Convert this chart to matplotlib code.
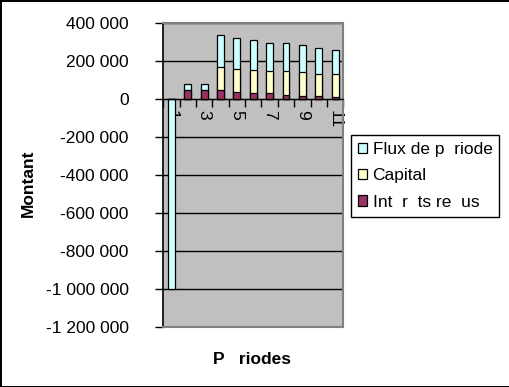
import matplotlib
matplotlib.use("Agg")
import matplotlib.pyplot as plt
from matplotlib.patches import Patch
import numpy as np

plt.rcParams['font.family'] = ['Liberation Sans', 'DejaVu Sans']

# data
periodes = np.arange(1, 12)
flux = [-1000000, 82000, 82000, 337000, 325000, 314000, 298000, 295000, 283000, 272000, 261000]
capital = [0, 0, 0, 167000, 161000, 156000, 151000, 151000, 142000, 135000, 130000]
interets = [0, 47000, 47000, 47000, 37000, 30000, 30000, 21000, 14000, 14000, 9000]

noms = ["Flux de p  riode", "Capital", "Int  r  ts re  us"]
couleurs = ["#CCFFFF", "#FFFFCC", "#993366"]

y_ticks = [400000, 200000, 0, -200000, -400000, -600000, -800000, -1000000, -1200000]
y_labels = ["400 000", "200 000", "0", "-200 000", "-400 000", "-600 000",
            "-800 000", "-1 000 000", "-1 200 000"]
x_labels = ["1", "", "3", "", "5", "", "7", "", "9", "", "11"]

fig = plt.figure(figsize=(5.1, 3.87), dpi=100, edgecolor='black', linewidth=2)
ax = fig.add_axes([0.3202, 0.1558, 0.3529, 0.784])
ax.set_facecolor("#C0C0C0")

w = 0.42
for vals, col in zip([flux, capital, interets], couleurs):
    ax.bar(periodes, vals, width=w, color=col, edgecolor='black', linewidth=0.9, zorder=3)

ax.set_xlim(0.5, 11.5)
ax.set_ylim(-1200000, 400000)

# y axis
ax.set_yticks(y_ticks)
ax.set_yticklabels(y_labels, fontsize=12.5)
ax.tick_params(axis='y', direction='out', length=6, width=1, pad=19)
ax.yaxis.grid(True, color='black', linewidth=1)
ax.set_axisbelow(True)

# category axis sits on zero
ax.spines['bottom'].set_position(('data', 0))
ax.spines['bottom'].set_zorder(4)
ax.set_xticks(periodes)
ax.set_xticklabels(x_labels, rotation=270, fontsize=12.5, va='top')
ax.tick_params(axis='x', which='major', length=0, pad=8)
ax.set_xticks(np.arange(0.5, 12, 1), minor=True)
ax.tick_params(axis='x', which='minor', direction='out', length=6, width=1)

ax.spines['left'].set_linewidth(1.2)
for s in ['top', 'right']:
    ax.spines[s].set_color('#808080')
    ax.spines[s].set_linewidth(1.5)
ax.axhline(-1200000, color='#808080', linewidth=1.5, zorder=5, clip_on=False)

fig.text(0.055, 0.527, "Montant", rotation=90, fontsize=12.5, fontweight='bold',
         ha='center', va='center')
fig.text(0.494, 0.072, "P   riodes", fontsize=12.5, fontweight='bold',
         ha='center', va='center')

handles = [Patch(facecolor=c, edgecolor='black', linewidth=0.9) for c in couleurs]
leg = fig.legend(handles, noms, loc='upper left', bbox_to_anchor=(0.688, 0.651),
                 fontsize=12.5, frameon=True, fancybox=False, edgecolor='black',
                 framealpha=1, borderaxespad=0, handlelength=0.55, handleheight=0.55,
                 handletextpad=0.3, labelspacing=0.65, borderpad=0.4)
leg.get_frame().set_linewidth(1)

fig.savefig("out.png", dpi=100, edgecolor=fig.get_edgecolor())
